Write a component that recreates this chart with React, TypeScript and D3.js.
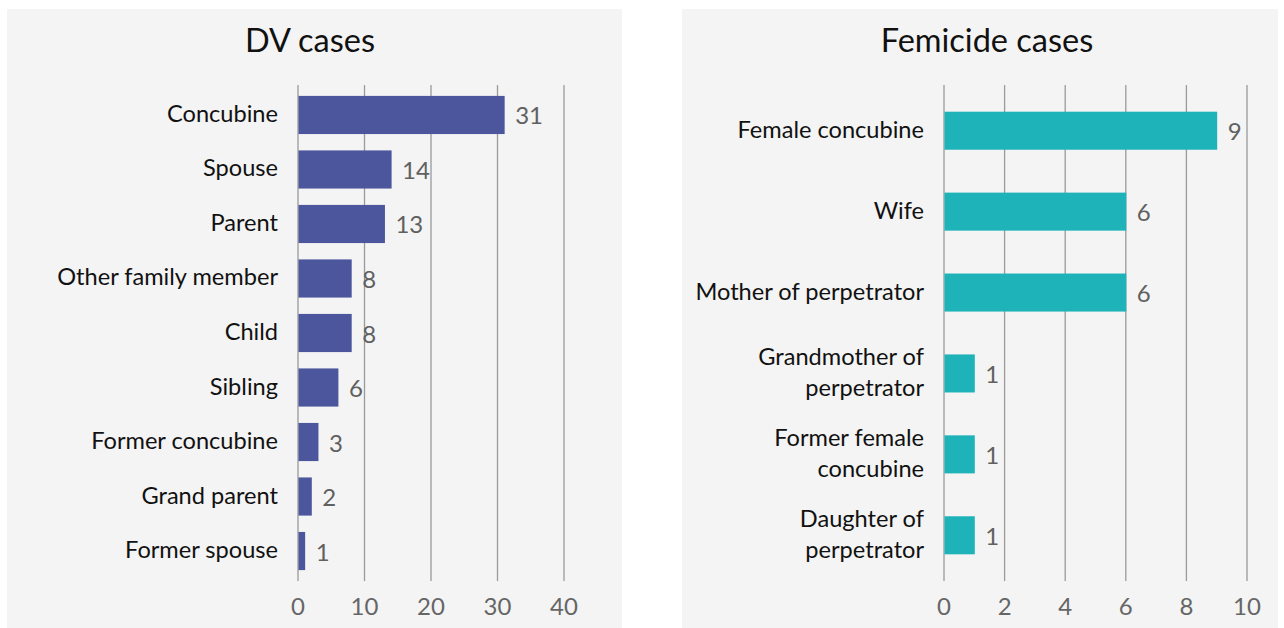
import * as d3 from "d3";
import React from "react";

// DV cases by relationship
const dvCategories = [
  "Concubine",
  "Spouse",
  "Parent",
  "Other family member",
  "Child",
  "Sibling",
  "Former concubine",
  "Grand parent",
  "Former spouse",
];
const dvValues = [31, 14, 13, 8, 8, 6, 3, 2, 1];
const dvTicks = [0, 10, 20, 30, 40];

// Femicide cases by relationship (lines split for wrapping)
const femCategories = [
  ["Female concubine"],
  ["Wife"],
  ["Mother of perpetrator"],
  ["Grandmother of", "perpetrator"],
  ["Former female", "concubine"],
  ["Daughter of", "perpetrator"],
];
const femValues = [9, 6, 6, 1, 1, 1];
const femTicks = [0, 2, 4, 6, 8, 10];

const FONT = "Lato, 'Open Sans', sans-serif";

type PanelProps = {
  x0: number;
  x1: number;
  title: string;
  titleX: number;
  labels: string[][];
  values: number[];
  ticks: number[];
  axisLeft: number;
  axisRight: number;
  color: string;
  paddingInner: number;
  paddingOuter: number;
};

function Panel(p: PanelProps) {
  const top = 85;
  const bottom = 581;
  const x = d3
    .scaleLinear()
    .domain([0, p.ticks[p.ticks.length - 1]])
    .range([p.axisLeft, p.axisRight]);
  const y = d3
    .scaleBand<number>()
    .domain(p.values.map((_, i) => i))
    .range([top, bottom])
    .paddingInner(p.paddingInner)
    .paddingOuter(p.paddingOuter);
  const lineH = 31;

  return (
    <g>
      <rect x={p.x0} y={9} width={p.x1 - p.x0} height={628 - 9} fill="#f4f4f4" />
      <text
        x={p.titleX}
        y={39}
        textAnchor="middle"
        dominantBaseline="central"
        fontSize={32.5}
        fill="#111"
        fontFamily={FONT}
      >
        {p.title}
      </text>
      {p.ticks.map((t) => (
        <g key={t}>
          <line x1={x(t)} x2={x(t)} y1={top} y2={bottom} stroke="#9a9a9a" strokeWidth={1.3} />
          <text
            x={x(t)}
            y={605}
            textAnchor="middle"
            dominantBaseline="central"
            fontSize={24}
            fill="#666"
            fontFamily={FONT}
          >
            {t}
          </text>
        </g>
      ))}
      {p.values.map((v, i) => {
        const yc = (y(i) as number) + y.bandwidth() / 2;
        const lines = p.labels[i];
        return (
          <g key={i}>
            <rect
              x={x(0) + 0.5}
              y={y(i)}
              width={x(v) - x(0)}
              height={y.bandwidth()}
              fill={p.color}
            />
            <text
              x={x(v) + 11}
              y={yc}
              dominantBaseline="central"
              fontSize={24}
              fill="#606060"
              fontFamily={FONT}
            >
              {v}
            </text>
            {lines.map((l, j) => (
              <text
                key={j}
                x={p.axisLeft - 20}
                y={yc + (j - (lines.length - 1) / 2) * lineH - 2}
                textAnchor="end"
                dominantBaseline="central"
                fontSize={23.6}
                fill="#111"
                fontFamily={FONT}
              >
                {l}
              </text>
            ))}
          </g>
        );
      })}
    </g>
  );
}

export default function App() {
  return (
    <svg
      width={1284}
      height={628}
      style={{ position: "absolute", left: 0, top: 0, background: "#fff" }}
    >
      <Panel
        x0={7}
        x1={622}
        title="DV cases"
        titleX={310}
        labels={dvCategories.map((c) => [c])}
        values={dvValues}
        ticks={dvTicks}
        axisLeft={298}
        axisRight={564}
        color="#4b569c"
        paddingInner={0.3}
        paddingOuter={0.2}
      />
      <Panel
        x0={682}
        x1={1278}
        title="Femicide cases"
        titleX={987}
        labels={femCategories}
        values={femValues}
        ticks={femTicks}
        axisLeft={944}
        axisRight={1247}
        color="#1eb3b9"
        paddingInner={0.53}
        paddingOuter={0.33}
      />
    </svg>
  );
}
